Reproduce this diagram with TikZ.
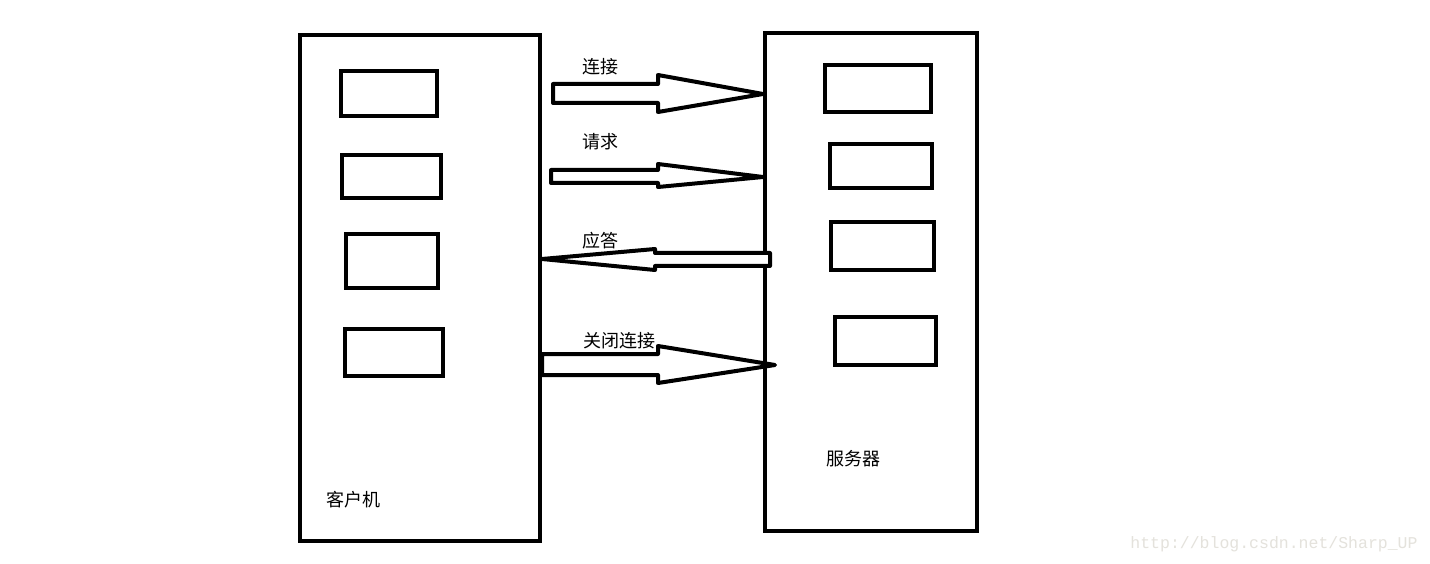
\documentclass[tikz,border=0pt]{standalone}
\usepackage{fontspec}
\newfontfamily\cjk{Noto Sans CJK SC}
\newfontfamily\wm{Liberation Mono}
\begin{document}
\begin{tikzpicture}[x=1pt,y=-1pt,
  frame/.style={draw=black,line width=4pt,rectangle,inner sep=0pt},
  hollow/.style={draw=black,line width=4pt,line join=round,fill=white},
  lbl/.style={font=\cjk\fontsize{18}{21}\selectfont,inner sep=0pt,text=black}]
\fill[white] (0,0) rectangle (1430,564);
\useasboundingbox (0,0) rectangle (1430,564);
% main frames
\node[frame,minimum width=240pt,minimum height=506pt] (client) at (420,288) {};
\node[frame,minimum width=212pt,minimum height=498pt] (server) at (871,282) {};
% client inner boxes
\node[frame,minimum width=96pt,minimum height=45pt] (c1) at (389,93.5) {};
\node[frame,minimum width=99pt,minimum height=43pt] (c2) at (391.5,176.5) {};
\node[frame,minimum width=92pt,minimum height=54pt] (c3) at (392,261) {};
\node[frame,minimum width=98pt,minimum height=47pt] (c4) at (394,352.5) {};
% server inner boxes
\node[frame,minimum width=106pt,minimum height=47pt] (s1) at (878,88.5) {};
\node[frame,minimum width=102pt,minimum height=44pt] (s2) at (881,166) {};
\node[frame,minimum width=103pt,minimum height=48pt] (s3) at (882.5,246) {};
\node[frame,minimum width=101pt,minimum height=48pt] (s4) at (885.5,341) {};
% arrows
\draw[hollow] (553,84) -- (658,84) -- (658,75) -- (763,94) -- (658,112) -- (658,103) -- (553,103) -- cycle;
\draw[hollow] (551,170) -- (658,170) -- (658,164) -- (763,177) -- (658,187) -- (658,183) -- (551,183) -- cycle;
\draw[hollow] (770,253) -- (655,253) -- (655,249) -- (542,259) -- (655,270) -- (655,266) -- (770,266) -- cycle;
\draw[hollow] (542,354) -- (658,354) -- (658,346) -- (775,365) -- (658,383) -- (658,375) -- (542,375) -- cycle;
% labels
\node[lbl] (t1) at (600,67) {连接};
\node[lbl] (t2) at (600,142) {请求};
\node[lbl] (t3) at (600,241) {应答};
\node[lbl] (t4) at (619,341) {关闭连接};
\node[lbl] (tc) at (353,500) {客户机};
\node[lbl] (ts) at (853,459) {服务器};
\node[font=\wm\fontsize{16.5}{18}\selectfont,text={rgb,255:red,228;green,226;blue,220},inner sep=0pt] (wm) at (1274,544) {http://blog.csdn.net/Sharp\_UP};
\end{tikzpicture}
\end{document}
